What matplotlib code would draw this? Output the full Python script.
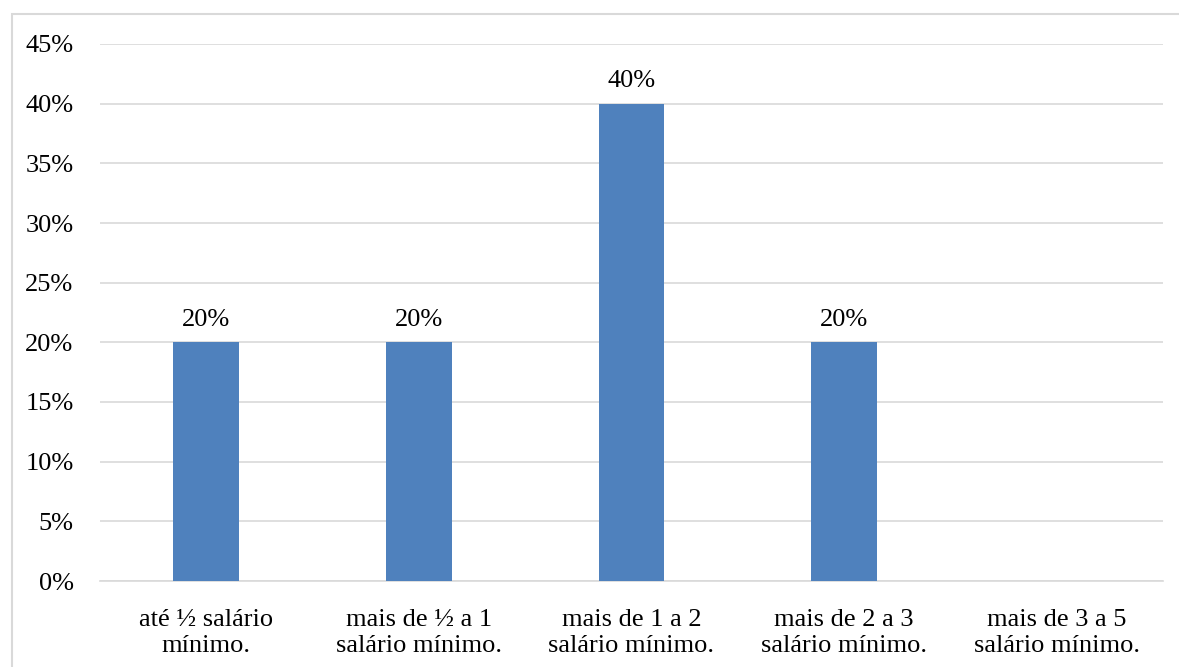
import matplotlib
matplotlib.use("Agg")
import matplotlib.pyplot as plt
from matplotlib.patches import Rectangle
from matplotlib.ticker import FuncFormatter, MultipleLocator

categories = [
    "até ½ salário\nmínimo.",
    "mais de ½ a 1\nsalário mínimo.",
    "mais de 1 a 2\nsalário mínimo.",
    "mais de 2 a 3\nsalário mínimo.",
    "mais de 3 a 5\nsalário mínimo.",
]
values = [20, 20, 40, 20, 0]

plt.rcParams["font.family"] = ["Liberation Serif", "DejaVu Serif"]

W, H = 1179, 667
fig = plt.figure(figsize=(W / 100, H / 100), dpi=100)
ax = fig.add_axes([100 / W, 1 - 581 / H, (1163 - 100) / W, (581 - 44) / H])

bar_color = "#4F81BD"
grid_color = "#D9D9D9"
fs = 19
x = list(range(len(categories)))
bars = ax.bar(x, values, width=0.31, color=bar_color, zorder=3)

for xi, v in zip(x, values):
    if v > 0:
        ax.annotate(f"{v}%", (xi, v), xytext=(0, 12), textcoords="offset points",
                    ha="center", va="baseline", fontsize=fs, color="#000000")

ax.set_xlim(-0.5, len(categories) - 0.5)
ax.set_ylim(0, 45)
ax.yaxis.set_major_locator(MultipleLocator(5))
ax.yaxis.set_major_formatter(FuncFormatter(lambda v, p: f"{v:.0f}%"))
ax.set_xticks(x)
ax.set_xticklabels(categories, fontsize=fs, linespacing=1.25)
ax.tick_params(axis="y", labelsize=fs, length=0, pad=19)
ax.tick_params(axis="x", length=0, pad=20)

ax.grid(axis="y", color=grid_color, linewidth=1.2, zorder=0)
for s in ["top", "right", "left"]:
    ax.spines[s].set_visible(False)
ax.spines["bottom"].set_color(grid_color)
ax.spines["bottom"].set_linewidth(1.2)

# outer chart frame
fig.patches.append(Rectangle((11.5 / W, -0.05), 1.2, 1 - 13.5 / H + 0.05,
                             transform=fig.transFigure, fill=False,
                             edgecolor=grid_color, linewidth=1.5))

fig.savefig("out.png", dpi=100)
